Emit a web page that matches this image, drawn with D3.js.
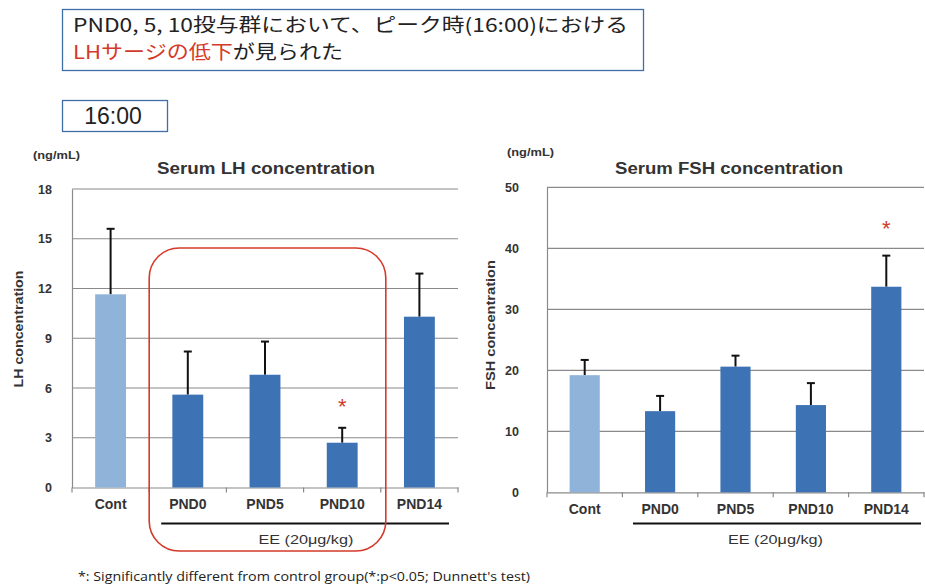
<!DOCTYPE html>
<html>
<head>
<meta charset="utf-8">
<script src="https://cdn.jsdelivr.net/npm/d3@7"></script>
<style>
  html, body { margin: 0; padding: 0; background: #fff; }
  svg { display: block; }
  text { font-family: "Liberation Sans", Arial, sans-serif; }
</style>
</head>
<body>
<svg id="chart" width="925" height="587"></svg>
<script>
// Groups and hormone levels (mean and upper error bar end)
const categories = ["Cont", "PND0", "PND5", "PND10", "PND14"];
const lhMean = [11.65, 5.6, 6.8, 2.7, 10.3];
const lhUpper = [15.6, 8.2, 8.8, 3.6, 12.9];
const lhTicks = [0, 3, 6, 9, 12, 15, 18];
const lhSignificant = ["PND10"];

const fshMean = [19.2, 13.3, 20.6, 14.3, 33.7];
const fshUpper = [21.7, 15.8, 22.4, 17.9, 38.8];
const fshTicks = [0, 10, 20, 30, 40, 50];
const fshSignificant = ["PND14"];

const treatedGroups = ["PND0", "PND5", "PND10", "PND14"];
const highlightedGroups = ["PND0", "PND5", "PND10"];

const svg = d3.select("#chart");
const colorControl = "#8fb3d9";
const colorTreated = "#3d72b4";
const red = "#d43a2a";
const textDark = "#333";
const cjk = "'Noto Sans CJK JP', sans-serif";

// Header message box
const head = svg.append("g");
head.append("rect").attr("x", 62.5).attr("y", 9.5).attr("width", 581).attr("height", 61)
  .attr("fill", "#fff").attr("stroke", "#3f6fa6").attr("stroke-width", 1.3);
head.append("text").attr("x", 73).attr("y", 32)
  .attr("font-size", 19).attr("fill", "#222").style("font-family", cjk)
  .attr("textLength", 555).attr("lengthAdjust", "spacingAndGlyphs")
  .text("PND0, 5, 10投与群において、ピーク時(16:00)における");
const line2 = head.append("text").attr("x", 73).attr("y", 59)
  .attr("font-size", 19).attr("fill", "#222").style("font-family", cjk)
  .attr("textLength", 270).attr("lengthAdjust", "spacingAndGlyphs");
line2.append("tspan").attr("fill", red).text("LHサージの低下");
line2.append("tspan").text("が見られた");

// Time box
head.append("rect").attr("x", 62.5).attr("y", 100.5).attr("width", 105).attr("height", 31)
  .attr("fill", "#fff").attr("stroke", "#3f6fa6").attr("stroke-width", 1.3);
head.append("text").attr("x", 113).attr("y", 124).attr("text-anchor", "middle")
  .attr("font-size", 23).attr("fill", "#222")
  .style("font-family", "'Liberation Sans', Arial, sans-serif").text("16:00");

function drawPanel(cfg) {
  const g = svg.append("g");
  const x = d3.scaleBand().domain(categories).range([cfg.x0, cfg.x1]).paddingInner(0.6).paddingOuter(0.3);
  const band = d3.scaleBand().domain(categories).range([cfg.x0, cfg.x1]);
  const y = d3.scaleLinear().domain([0, cfg.max]).range([cfg.y0, cfg.yTop]);

  // horizontal gridlines
  g.append("g").selectAll("line").data(cfg.ticks.filter(t => t > 0)).join("line")
    .attr("x1", cfg.x0).attr("x2", cfg.x1)
    .attr("y1", d => y(d)).attr("y2", d => y(d))
    .attr("stroke", "#8a8a8a").attr("stroke-width", 1.2);

  // y axis
  const yAxis = g.append("g").attr("transform", `translate(${cfg.x0},0)`)
    .call(d3.axisLeft(y).tickValues(cfg.ticks).tickSize(0).tickPadding(cfg.tickPad));
  yAxis.select(".domain").attr("stroke", "#8a8a8a").attr("stroke-width", 1.2);
  yAxis.selectAll("text").attr("font-size", 12.5).attr("font-weight", "bold")
    .attr("fill", textDark).style("font-family", "'Liberation Sans', Arial, sans-serif");

  // x axis with boundary tick marks
  const xAxis = g.append("g").attr("transform", `translate(0,${cfg.y0})`)
    .call(d3.axisBottom(band).tickSize(0).tickPadding(12));
  xAxis.select(".domain").attr("stroke", "#8a8a8a").attr("stroke-width", 1.2);
  xAxis.selectAll("text").attr("font-size", 14).attr("font-weight", "bold")
    .attr("fill", textDark).style("font-family", "'Liberation Sans', Arial, sans-serif");
  const bounds = categories.map(c => band(c)).concat([cfg.x1]);
  g.append("g").selectAll("line").data(bounds).join("line")
    .attr("x1", d => d).attr("x2", d => d).attr("y1", cfg.y0).attr("y2", cfg.y0 + 5)
    .attr("stroke", "#8a8a8a").attr("stroke-width", 1.2);

  const data = categories.map((c, i) => ({ c, mean: cfg.mean[i], upper: cfg.upper[i] }));

  // error bars (upper only)
  const eb = g.append("g").selectAll("g").data(data).join("g");
  eb.append("line")
    .attr("x1", d => x(d.c) + x.bandwidth() / 2).attr("x2", d => x(d.c) + x.bandwidth() / 2)
    .attr("y1", d => y(d.mean)).attr("y2", d => y(d.upper))
    .attr("stroke", "#111").attr("stroke-width", 2);
  eb.append("line")
    .attr("x1", d => x(d.c) + x.bandwidth() / 2 - 4).attr("x2", d => x(d.c) + x.bandwidth() / 2 + 4)
    .attr("y1", d => y(d.upper)).attr("y2", d => y(d.upper))
    .attr("stroke", "#111").attr("stroke-width", 2);

  // bars
  g.append("g").selectAll("rect").data(data).join("rect")
    .attr("x", d => x(d.c)).attr("width", x.bandwidth())
    .attr("y", d => y(d.mean)).attr("height", d => cfg.y0 - y(d.mean))
    .attr("fill", d => d.c === "Cont" ? colorControl : colorTreated);

  // significance marks
  g.append("g").selectAll("text").data(data.filter(d => cfg.sig.includes(d.c))).join("text")
    .attr("x", d => x(d.c) + x.bandwidth() / 2)
    .attr("y", d => y(d.upper) - cfg.starGap)
    .attr("text-anchor", "middle").attr("font-size", 22).attr("fill", red)
    .text("*");

  // treated group bracket and label
  const first = band(treatedGroups[0]) + cfg.bracketIn;
  const last = cfg.x1 - cfg.bracketOut;
  g.append("line").attr("x1", first).attr("x2", last)
    .attr("y1", 523.5).attr("y2", 523.5).attr("stroke", "#111").attr("stroke-width", 2);
  g.append("text").attr("x", band("PND5") + band.bandwidth() * cfg.eePos).attr("y", 544)
    .attr("text-anchor", "middle").attr("font-size", 13).attr("fill", textDark)
    .attr("textLength", 95).attr("lengthAdjust", "spacingAndGlyphs")
    .text("EE (20μg/kg)");

  // titles
  g.append("text").attr("x", cfg.titleX).attr("y", 174).attr("text-anchor", "middle")
    .attr("font-size", 16).attr("font-weight", "bold").attr("fill", textDark)
    .attr("textLength", cfg.titleLen).attr("lengthAdjust", "spacingAndGlyphs")
    .text(cfg.title);
  g.append("text").attr("x", cfg.unitX).attr("y", cfg.unitY)
    .attr("font-size", 10.5).attr("font-weight", "bold").attr("fill", textDark)
    .attr("textLength", 47).attr("lengthAdjust", "spacingAndGlyphs")
    .text("(ng/mL)");
  g.append("text").attr("transform", `translate(${cfg.yTitleX},${cfg.yTitleY}) rotate(-90)`)
    .attr("text-anchor", "middle").attr("font-size", 13).attr("font-weight", "bold")
    .attr("fill", textDark).attr("textLength", cfg.yTitleLen).attr("lengthAdjust", "spacingAndGlyphs")
    .text(cfg.yTitle);
  return { x, band, y };
}

const lh = drawPanel({
  x0: 72, x1: 458, y0: 487.5, yTop: 189, max: 18, ticks: lhTicks,
  mean: lhMean, upper: lhUpper, sig: lhSignificant, tickPad: 20, starGap: 14,
  title: "Serum LH concentration", titleX: 266, titleLen: 218, unitX: 33, unitY: 159,
  yTitle: "LH concentration", yTitleX: 23, yTitleY: 329, yTitleLen: 117,
  bracketIn: 12, bracketOut: 9, eePos: 1.03
});

const fsh = drawPanel({
  x0: 547, x1: 924, y0: 492.3, yTop: 187.3, max: 50, ticks: fshTicks,
  mean: fshMean, upper: fshUpper, sig: fshSignificant, tickPad: 28, starGap: 20,
  title: "Serum FSH concentration", titleX: 729, titleLen: 228, unitX: 507, unitY: 156,
  yTitle: "FSH concentration", yTitleX: 495, yTitleY: 325, yTitleLen: 130,
  bracketIn: 10.6, bracketOut: 3, eePos: 1.03
});

// highlight around the LH bars of the early treated groups
const hx0 = lh.band(highlightedGroups[0]);
const hx1 = lh.band(highlightedGroups[highlightedGroups.length - 1]) + lh.band.bandwidth() + 5;
svg.append("rect").attr("x", hx0).attr("y", 248).attr("width", hx1 - hx0).attr("height", 303)
  .attr("rx", 30).attr("ry", 30).attr("fill", "none")
  .attr("stroke", red).attr("stroke-width", 1.6);

// footnote
svg.append("text").attr("x", 78).attr("y", 581).attr("font-size", 12.5).attr("fill", "#222")
  .attr("textLength", 452).attr("lengthAdjust", "spacingAndGlyphs")
  .style("font-family", "'Open Sans', sans-serif")
  .text("*: Significantly different from control group(*:p<0.05; Dunnett's test)");
</script>
</body>
</html>
